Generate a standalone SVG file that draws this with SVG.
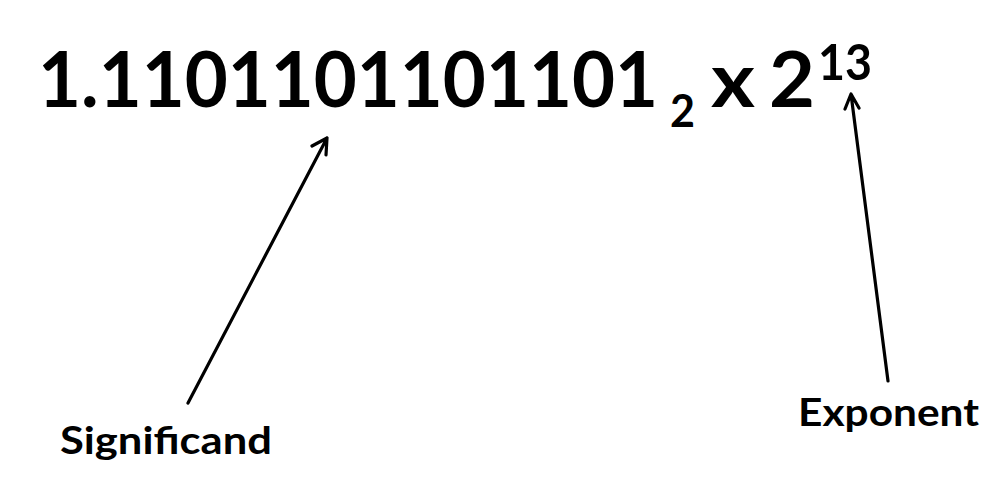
<svg xmlns="http://www.w3.org/2000/svg" width="1008" height="503" viewBox="0 0 1008 503">
<style>
text{font-family:Lato,"Open Sans","Liberation Sans",sans-serif;font-weight:bold;fill:#000}
.ln{stroke:#000;stroke-width:3.2;fill:none;stroke-linecap:round;stroke-linejoin:round}
</style>
<rect width="1008" height="503" fill="#fff"/>
<g id="formula">
<text x="38" y="107" font-size="76" textLength="620" lengthAdjust="spacingAndGlyphs">1.1101101101101</text>
<text x="670" y="127" font-size="46" textLength="25" lengthAdjust="spacingAndGlyphs">2</text>
<text x="711" y="107" font-size="76" textLength="44" lengthAdjust="spacingAndGlyphs">x</text>
<text x="769" y="107" font-size="76" textLength="46" lengthAdjust="spacingAndGlyphs">2</text>
<text x="818" y="80" font-size="50" textLength="54" lengthAdjust="spacingAndGlyphs">13</text>
</g>
<g id="significand">
<text x="60" y="454" font-size="38" textLength="212" lengthAdjust="spacingAndGlyphs">Significand</text>
</g>
<g id="exponent">
<text x="798" y="426" font-size="38" textLength="181" lengthAdjust="spacingAndGlyphs">Exponent</text>
</g>
<g id="connectors">
<path class="ln" d="M188,403 L327,138 M312,146 L327,138 L326,155"/>
<path class="ln" d="M888,381 L851,94 M845,109 L851,94 L859,108"/>
</g>
</svg>
